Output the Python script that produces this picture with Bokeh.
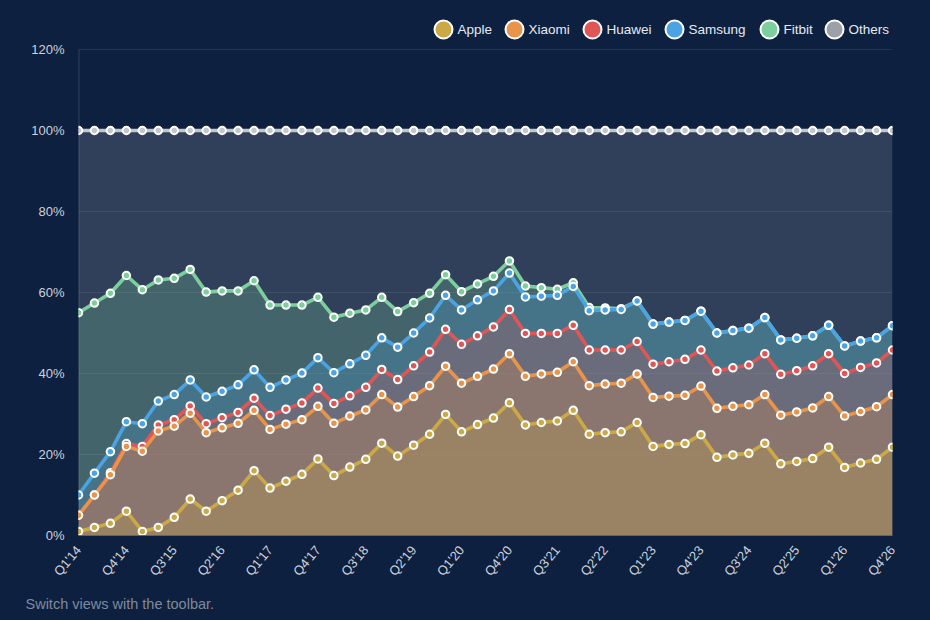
import numpy as np
from math import pi
from bokeh.plotting import figure
from bokeh.models import Range1d, FixedTicker, ColumnDataSource, Title
from bokeh.core.properties import value
from bokeh.embed import file_html
from bokeh.resources import INLINE

# ---------------- data ----------------
quarters = [f"Q{q}'{y:02d}" for y in range(14, 27) for q in range(1, 5)]

series_names = ["Apple", "Xiaomi", "Huawei", "Samsung", "Fitbit", "Others"]

apple = [1, 2, 3, 6, 1, 2, 4.5, 9, 6, 8.6,
         11.2, 16, 11.7, 13.4, 15.1, 18.9, 14.8, 16.9, 18.8, 22.8,
         19.6, 22.3, 25, 29.9, 25.6, 27.4, 29, 32.8, 27.3, 27.9,
         28.3, 30.9, 25, 25.4, 25.6, 27.9, 22, 22.5, 22.7, 24.9,
         19.3, 19.9, 20.3, 22.8, 17.7, 18.3, 19, 21.8, 16.8, 17.9,
         18.8, 21.8]
xiaomi = [4, 8, 12, 16, 19.8, 23.8, 22.5, 21.2, 19.4, 18,
          16.5, 14.9, 14.5, 14.1, 13.5, 13, 12.9, 12.6, 12.2, 12,
          12.1, 12, 12, 11.9, 12, 11.9, 12.1, 12.1, 12, 12,
          12, 12, 12, 12, 12, 12, 12.1, 11.9, 11.9, 12,
          12.1, 12, 12, 12, 12, 12.2, 12.5, 12.5, 12.7, 12.7,
          13, 13]
huawei = [0, 0, 0.5, 0.7, 1.2, 1.5, 1.6, 1.8, 2.2, 2.5,
          2.7, 3, 3.4, 3.7, 4.1, 4.5, 4.9, 5, 5.6, 6.2,
          6.8, 7.6, 8.3, 9.1, 9.6, 10, 10.4, 10.9, 10.6, 10,
          9.6, 9, 8.8, 8.4, 8.2, 8, 8.2, 8.5, 8.9, 8.9,
          9.2, 9.5, 9.8, 10.1, 10.1, 10.2, 10.4, 10.6, 10.5, 10.9,
          10.8, 11]
samsung = [5, 5.4, 5.2, 5.4, 5.6, 5.9, 6.2, 6.4, 6.6, 6.5,
           6.8, 7, 7, 7.2, 7.4, 7.5, 7.6, 7.9, 7.9, 7.8,
           8, 8.1, 8.4, 8.4, 8.5, 8.9, 8.9, 9, 9, 9.2,
           9.4, 9.6, 9.7, 9.9, 10, 10, 9.9, 9.8, 9.6, 9.6,
           9.4, 9.2, 9.1, 8.9, 8.5, 8, 7.4, 7, 6.8, 6.5,
           6.2, 6]
fitbit = [45, 42, 39.1, 36.1, 33.1, 29.9, 28.7, 27.3, 25.9, 24.8,
          23.2, 22, 20.3, 18.5, 16.8, 14.9, 13.7, 12.5, 11.2, 10,
          8.8, 7.5, 6.1, 5.1, 4.5, 3.9, 3.6, 3, 2.7, 2.1,
          1.5, 0.9, 0.8, 0.5, 0.2, 0, 0, 0, 0, 0,
          0, 0, 0, 0, 0, 0, 0, 0, 0, 0,
          0, 0]
others = [45, 42.6, 40.2, 35.8, 39.3, 36.9, 36.5, 34.3, 39.9, 39.6,
          39.6, 37.1, 43.1, 43.1, 43.1, 41.2, 46.1, 45.1, 44.3, 41.2,
          44.7, 42.5, 40.2, 35.6, 39.8, 37.9, 36, 32.2, 38.4, 38.8,
          39.2, 37.6, 43.7, 43.8, 44, 42.1, 47.8, 47.3, 46.9, 44.6,
          50, 49.4, 48.8, 46.2, 51.7, 51.3, 50.7, 48.1, 53.2, 52,
          51.2, 48.2]

y_ticks = [0, 20, 40, 60, 80, 100, 120]
y_tick_labels = [f"{t}%" for t in y_ticks]
x_ticks = list(range(0, len(quarters), 3))

# ---------------- styles ----------------
BG = "#0e2040"
fill_colors = ["#caa946", "#e8944a", "#e05555", "#4ba3e3", "#7ccf9c", "#9ca0a8"]
line_colors = ["#caa946", "#e8944a", "#e05555", "#4ba3e3", "#7ccf9c", "#c3c6cd"]
FONT = "Liberation Sans"
TICK_COLOR = "#cdd2da"

FRAME_L, FRAME_R, FRAME_T, FRAME_B = 78, 892, 10, 535
W, H = 930, 620
n = len(quarters)
px_per_x = (FRAME_R - FRAME_L) / (n - 1)
px_per_y = (535 - 130) / 100.0

x = np.arange(n)
stack = np.cumsum(np.array([apple, xiaomi, huawei, samsung, fitbit, others], dtype=float), axis=0)

p = figure(width=W, height=H,
           x_range=Range1d(0, n - 1),
           y_range=Range1d(0, (FRAME_B - FRAME_T) / px_per_y),
           output_backend="svg", toolbar_location=None,
           min_border_left=FRAME_L, min_border_right=W - FRAME_R,
           min_border_top=FRAME_T, min_border_bottom=H - FRAME_B,
           background_fill_color=BG, border_fill_color=BG,
           outline_line_color=None)
p.styles = {"background-color": BG}

# axes
p.yaxis.ticker = FixedTicker(ticks=y_ticks)
p.yaxis.major_label_overrides = {t: l for t, l in zip(y_ticks, y_tick_labels)}
p.yaxis.axis_line_color = None
p.yaxis.major_tick_line_color = None
p.yaxis.minor_tick_line_color = None
p.yaxis.major_label_text_color = TICK_COLOR
p.yaxis.major_label_text_font = FONT
p.yaxis.major_label_text_font_size = "13px"
p.yaxis.major_label_standoff = 8

p.xaxis.ticker = FixedTicker(ticks=x_ticks)
p.xaxis.major_label_overrides = {i: quarters[i] for i in x_ticks}
p.xaxis.major_label_orientation = 50 * pi / 180
p.xaxis.axis_line_color = "#5b6578"
p.xaxis.major_tick_line_color = None
p.xaxis.minor_tick_line_color = None
p.xaxis.major_label_text_color = TICK_COLOR
p.xaxis.major_label_text_font = FONT
p.xaxis.major_label_text_font_size = "13px"
p.xaxis.major_label_standoff = 6

p.xgrid.grid_line_color = None
p.ygrid.grid_line_color = "#ffffff"
p.ygrid.grid_line_alpha = 0.09

# left axis rule (only up to 120%)
p.segment(x0=[0], y0=[0], x1=[0], y1=[120], line_color="#ffffff", line_alpha=0.15, line_width=2)

# stacked areas: drawn last dataset first, each fill to origin
for k in reversed(range(len(series_names))):
    top = stack[k]
    src = ColumnDataSource(dict(x=x, top=top))
    p.varea(x="x", y1=0, y2="top", source=src, fill_color=fill_colors[k], fill_alpha=0.25)
    p.line(x="x", y="top", source=src, line_color=line_colors[k], line_width=3.6,
           line_join="round", line_cap="round")
    p.scatter(x="x", y="top", source=src, size=7.5, fill_color=line_colors[k],
              line_color="#ffffff", line_width=2)

# legend (drawn in the frame's upper band, above 120%)
legend_px = [443, 514, 592, 674, 769, 834]
leg_y = (FRAME_B - 29) / px_per_y
leg_src = ColumnDataSource(dict(
    cx=[(px - FRAME_L) / px_per_x for px in legend_px],
    tx=[(px + 14 - FRAME_L) / px_per_x for px in legend_px],
    y=[leg_y] * len(series_names),
    name=series_names,
    color=fill_colors,
))
p.scatter(x="cx", y="y", source=leg_src, size=18, fill_color="color",
          line_color="#ffffff", line_width=2)
p.text(x="tx", y="y", text="name", source=leg_src, text_color="#e6e9ee",
       text_font=value(FONT), text_font_size="13.5px", text_baseline="middle",
       text_align="left")

p.add_layout(Title(text="Switch views with the toolbar.", align="left", offset=25 - FRAME_L,
                   standoff=14, text_color="#7f8a9c", text_font=FONT,
                   text_font_size="14.5px", text_font_style="normal"), "below")

open("out.html", "w").write(file_html(p, INLINE))
